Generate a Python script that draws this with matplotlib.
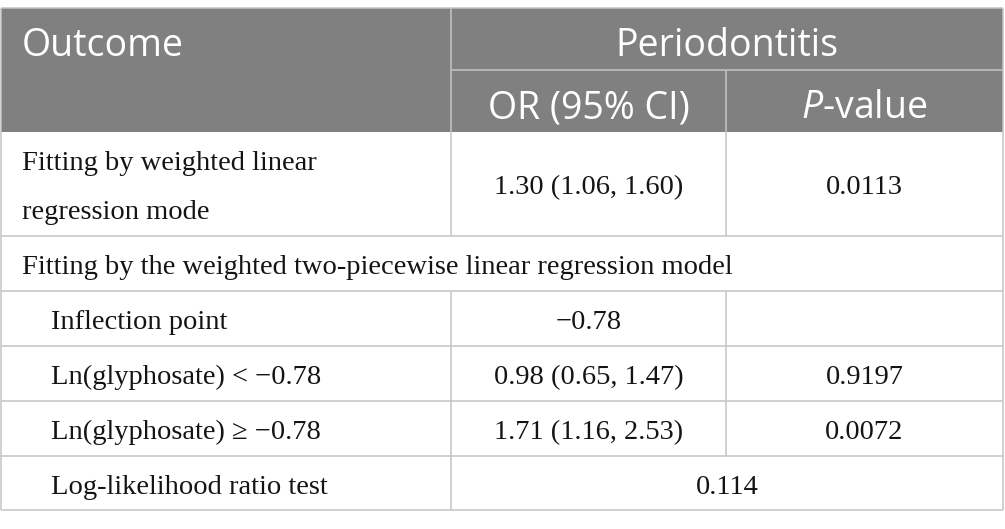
# regression table: periodontitis vs ln(glyphosate)

import matplotlib.pyplot as plt
from matplotlib.patches import Rectangle

plt.rcParams['mathtext.fontset'] = 'custom'
plt.rcParams['mathtext.rm'] = 'Open Sans'
plt.rcParams['mathtext.it'] = 'Open Sans:italic'

# Table content
header_outcome = "Outcome"
header_group = "Periodontitis"
header_cols = ["OR (95% CI)", r"$\mathit{P}$-value"]

row_labels = [
    "Fitting by weighted linear\nregression mode",
    "Fitting by the weighted two-piecewise linear regression model",
    "Inflection point",
    "Ln(glyphosate) < \u22120.78",
    "Ln(glyphosate) \u2265 \u22120.78",
    "Log-likelihood ratio test",
]
or_ci = ["1.30 (1.06, 1.60)", "", "\u22120.78", "0.98 (0.65, 1.47)", "1.71 (1.16, 2.53)", "0.114"]
p_values = ["0.0113", "", "", "0.9197", "0.0072", ""]
indented = [False, False, True, True, True, True]

# Layout (pixels)
x_edges = [1, 451, 726, 1003]
head_top, head_mid, head_bot = 8, 70, 131.5
row_edges = [131.5, 236, 291, 346, 401, 456, 510]
line_col = '#c4c4c4'
head_col = '#808080'
text_col = '#141414'
serif = ['Liberation Serif', 'DejaVu Serif']
sans = ['Open Sans', 'DejaVu Sans']
body_fs = 20.5
head_fs = 27
lw = 1.1

fig = plt.figure(figsize=(10.05, 5.29), dpi=100)
ax = fig.add_axes([0, 0, 1, 1])
ax.set_xlim(0, 1005)
ax.set_ylim(529, 0)
ax.axis('off')

# header background
ax.add_patch(Rectangle((x_edges[0], head_top), x_edges[-1] - x_edges[0], head_bot - head_top,
                       facecolor=head_col, edgecolor='none'))

# header text
ax.text(22, 56, header_outcome, color='white', fontsize=head_fs, family=sans, va='baseline')
ax.text((x_edges[1] + x_edges[3]) / 2, 56, header_group, color='white', fontsize=head_fs,
        family=sans, ha='center', va='baseline')
for i, h in enumerate(header_cols):
    ax.text((x_edges[i + 1] + x_edges[i + 2]) / 2, 118, h, color='white', fontsize=head_fs,
            family=sans, ha='center', va='baseline')

# header lines
ax.hlines(head_top, x_edges[0], x_edges[-1], color=line_col, lw=lw)
ax.hlines(head_mid, x_edges[1], x_edges[-1], color=line_col, lw=lw)
ax.vlines(x_edges[1], head_top, head_bot, color=line_col, lw=lw)
ax.vlines(x_edges[2], head_mid, head_bot, color=line_col, lw=lw)

# body
for i, label in enumerate(row_labels):
    top, bot = row_edges[i], row_edges[i + 1]
    mid = (top + bot) / 2
    x0 = 51 if indented[i] else 22
    lines = label.split("\n")
    for k, ln in enumerate(lines):
        y = mid + 10.5 + (k - (len(lines) - 1) / 2) * 49
        ax.text(x0, y, ln, color=text_col, fontsize=body_fs, family=serif, va='baseline')

    ax.hlines(bot, x_edges[0], x_edges[-1], color=line_col, lw=lw)
    ax.vlines([x_edges[0], x_edges[-1]], top, bot, color=line_col, lw=lw)

    if i == 1:
        continue  # spanning row
    ax.vlines(x_edges[1], top, bot, color=line_col, lw=lw)
    if p_values[i] == "" and or_ci[i] != "" and i == len(row_labels) - 1:
        # value spans both columns
        ax.text((x_edges[1] + x_edges[3]) / 2, mid + 10.5, or_ci[i], color=text_col,
                fontsize=body_fs, family=serif, ha='center', va='baseline')
        continue
    ax.vlines(x_edges[2], top, bot, color=line_col, lw=lw)
    ax.text((x_edges[1] + x_edges[2]) / 2, mid + 10.5, or_ci[i], color=text_col,
            fontsize=body_fs, family=serif, ha='center', va='baseline')
    ax.text((x_edges[2] + x_edges[3]) / 2, mid + 10.5, p_values[i], color=text_col,
            fontsize=body_fs, family=serif, ha='center', va='baseline')

ax.vlines([x_edges[0], x_edges[-1]], head_top, head_bot, color=line_col, lw=lw)

fig.savefig("out.png", dpi=100)
